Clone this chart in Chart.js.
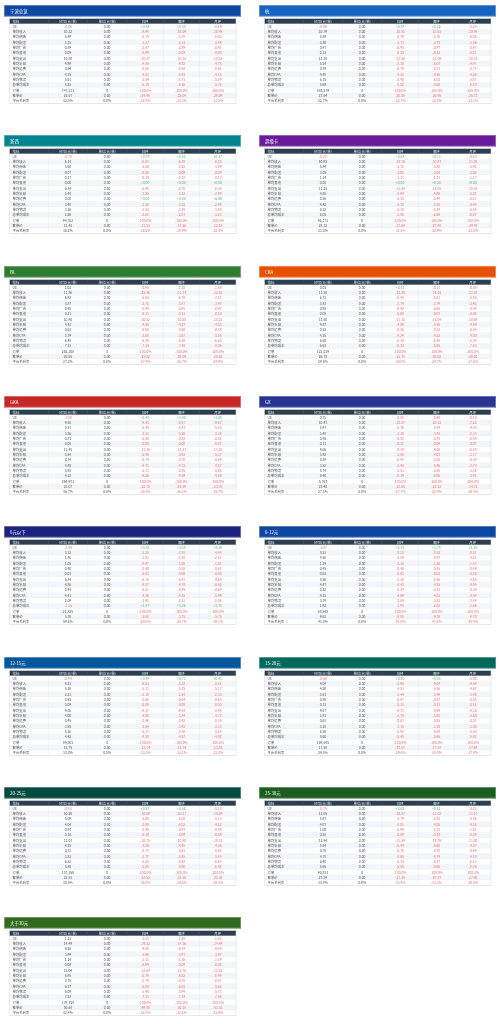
<!DOCTYPE html>
<html><head><meta charset="utf-8">
<script src="https://cdn.jsdelivr.net/npm/chart.js@4"></script>
<style>
html,body{margin:0;padding:0;background:#fff;width:500px;height:1024px;overflow:hidden}
canvas{position:absolute}
</style></head><body>
<script>
const panelTitles = ["宁波总览","杭","浙西","超级卡","BL","CKA","GKA","GX","6元以下","6-12元","12-15元","15-20元","20-25元","25-30元","大于30元"];
const panelColors = ["#0d47a1","#1565c0","#00838f","#6a1b9a","#2e7d32","#e65100","#c62828","#283593","#1a237e","#0d47a1","#01579b","#00695c","#004d40","#1b5e20","#33691e"];
const colLabels = ["指标","MTD(元/单)","单位(元/单)","日环","周环","月环"];
const rowLabels = ["UE","单均收入","单均佣金","单均配送","单均广告","单均其他","单均支出","单均补贴","单均运费","单均CPA","单均物流","总单均成本","订单","客单价","平台毛利率"];
const mtdValues = [
["-0.46","10.22","5.89","3.35","0.89","0.09","10.80","4.99","0.64","4.35","5.61","5.35","747,513","25.67","32.8%"],
["-0.46","10.79","5.89","3.80","0.97","0.13","11.30","5.24","0.79","4.48","6.15","5.69","583,579","27.64","32.7%"],
["-0.70","6.14","5.60","0.07","0.17","0.00","6.84","3.48","0.00","3.48","3.36","2.66","94,762","11.43","36.2%"],
["-0.23","10.93","5.84","3.05","1.14","0.00","11.25","4.88","0.56","4.42","6.28","6.05","92,173","28.32","31.3%"],
["1.03","11.86","6.92","3.87","0.95","0.11","10.90","4.43","0.63","3.79","6.48","7.51","262,308","26.65","27.2%"],
["0.03","11.58","6.72","3.83","0.95","0.08","11.60","4.87","0.52","4.35","6.60","6.62","122,019","26.78","29.6%"],
["-1.80","9.56","5.41","3.26","0.81","0.08","11.45","5.54","0.74","4.80","5.92","4.32","264,973","23.07","36.7%"],
["0.75","10.41","5.97","3.48","0.85","0.11","9.66","3.92","0.39","3.52","5.74","6.40","5,767","23.40","27.3%"],
["-3.44","3.32","1.86","1.05","0.40","0.01","6.84","4.86","0.44","4.41","2.09","-1.35","21,825","3.76","59.6%"],
["-1.87","8.23","4.56","1.19","0.45","0.03","8.26","4.47","0.32","4.15","3.79","1.92","68,542","9.62","41.8%"],
["-0.94","8.11","5.16","2.21","0.65","0.09","9.06","4.00","0.45","3.55","5.36","4.42","89,003","13.75","33.0%"],
["-0.56","9.09","4.58","3.51","0.88","0.13","9.67","3.81","0.63","3.18","6.16","5.60","169,645","17.58","29.5%"],
["-0.63","10.20","5.09","4.04","0.97","0.10","11.07","4.55","0.72","3.83","6.52","5.80","137,350","22.53","30.8%"],
["-0.75","11.05","5.87","4.07","1.00","0.10","11.94","5.54","0.76","4.78","6.40","5.65","90,833","27.39","33.4%"],
["1.13","14.49","9.26","3.99","1.14","0.09","13.04","6.95","0.78","6.17","6.09","7.22","179,718","50.68","32.4%"]];
const dayChange = [
["+0.42","-9.98","-5.74","-3.27","-0.87","-0.09","-10.47","-4.88","-0.65","-4.23","-5.59","-5.18","-100.0%","-24.98","-32.8%"],
["+0.39","-10.51","-5.70","-3.73","-0.95","-0.13","-11.00","-5.10","-0.78","-4.32","-5.90","-5.52","-100.0%","-26.88","-32.7%"],
["+0.74","-6.21","-5.66","-0.06","-0.18","+0.00","-6.93","-3.58","+0.00","-3.58","-3.35","-2.61","-100.0%","-11.53","-36.6%"],
["+0.24","-10.75","-5.72","-3.02","-1.11","+0.00","-11.04","-4.94","-0.55","-4.38","-6.10","-5.86","-100.0%","-27.69","-31.5%"],
["-0.95","-11.46","-6.65","-3.75","-0.94","-0.11","-10.52","-4.50","-0.65","-3.68","-6.19","-7.14","-100.0%","-25.82","-27.4%"],
["+0.11","-11.20","-6.48","-3.74","-0.92","-0.08","-11.15","-4.80","-0.56","-4.24","-6.34","-6.23","-100.0%","-25.73","-30.0%"],
["+1.45","-9.43","-5.34","-3.21","-0.80","-0.08","-11.16","-5.45","-0.74","-4.71","-5.71","-4.26","-100.0%","-22.72","-36.8%"],
["-0.88","-10.07","-5.76","-3.38","-0.82","-0.11","-9.39","-3.86","-0.41","-3.45","-5.53","-6.19","-100.0%","-22.65","-27.7%"],
["+3.38","-3.25","-1.81","-0.97","-0.40","-0.01","-6.78","-4.87","-0.51","-4.36","-1.91","+1.47","-100.0%","-3.62","-60.0%"],
["+1.75","-8.22","-4.59","-1.15","-0.46","-0.03","-8.12","-4.43","-0.34","-4.09","-3.69","-1.93","-100.0%","-9.85","-41.6%"],
["+0.89","-8.03","-5.11","-2.18","-0.66","-0.09","-9.17","-4.00","-0.46","-3.54","-5.17","-4.28","-100.0%","-13.74","-33.3%"],
["+0.50","-8.98","-4.53","-3.44","-0.87","-0.13","-9.71","-3.78","-0.63","-3.15","-5.93","-5.43","-100.0%","-17.57","-29.6%"],
["+0.57","-10.00","-5.00","-3.95","-0.95","-0.10","-10.75","-4.50","-0.73","-3.77","-6.25","-5.68","-100.0%","-22.52","-31.0%"],
["+0.65","-10.87","-5.79","-4.01","-0.98","-0.09","-11.59","-5.44","-0.76","-4.68","-6.15","-5.50","-100.0%","-27.38","-33.4%"],
["-1.21","-14.22","-9.08","-3.96","-1.11","-0.09","-12.69","-6.79","-0.79","-6.00","-5.90","-7.11","-100.0%","-49.88","-32.3%"]];
const weekChange = [
["+0.35","-10.09","-5.78","-3.33","-0.89","-0.09","-10.53","-4.82","-0.59","-4.23","-5.71","-5.36","-100.0%","-25.04","-32.3%"],
["+0.36","-10.63","-5.76","-3.78","-0.97","-0.12","-11.09","-5.07","-0.71","-4.36","-6.03","-5.66","-100.0%","-26.95","-32.3%"],
["+0.51","-6.19","-5.62","-0.09","-0.18","+0.00","-6.70","-3.32","+0.00","-3.32","-3.38","-2.87","-100.0%","-11.56","-34.9%"],
["+0.13","-10.87","-5.80","-3.04","-1.13","+0.00","-11.05","-4.86","-0.49","-4.38","-6.19","-6.06","-100.0%","-27.88","-30.9%"],
["-1.10","-11.71","-6.78","-3.87","-0.95","-0.11","-10.65","-4.27","-0.60","-3.67","-6.38","-7.48","-100.0%","-26.09","-26.7%"],
["-0.17","-11.33","-6.51","-3.79","-0.96","-0.07","-11.04","-4.56","-0.53","-4.22","-6.48","-6.65","-100.0%","-26.02","-29.7%"],
["+1.40","-9.57","-5.41","-3.26","-0.82","-0.08","-11.27","-5.42","-0.70","-4.72","-5.85","-4.39","-100.0%","-23.59","-36.2%"],
["-0.40","-10.13","-5.84","-3.42","-0.78","-0.09","-9.68","-4.03","-0.56","-3.46","-5.65","-6.06","-100.0%","-23.12","-26.4%"],
["+3.38","-3.38","-1.92","-1.06","-0.38","-0.00","-6.91","-4.79","-0.45","-4.35","-2.11","+1.26","-100.0%","-3.75","-58.7%"],
["+1.78","-8.22","-4.67","-1.26","-0.45","-0.03","-8.16","-4.35","-0.33","-4.03","-3.81","-2.03","-100.0%","-9.78","-41.2%"],
["+0.73","-8.12","-5.15","-2.24","-0.64","-0.08","-9.14","-3.84","-0.42","-3.42","-5.30","-4.57","-100.0%","-13.74","-32.1%"],
["+0.38","-9.04","-4.56","-3.49","-0.87","-0.13","-9.69","-3.65","-0.55","-3.10","-6.04","-5.66","-100.0%","-17.57","-28.8%"],
["+0.52","-10.17","-5.08","-4.02","-0.97","-0.09","-10.80","-4.48","-0.63","-3.85","-6.42","-5.90","-100.0%","-22.50","-30.6%"],
["+0.61","-11.02","-5.85","-4.06","-1.01","-0.10","-11.76","-5.60","-0.70","-4.79","-6.27","-5.66","-100.0%","-27.37","-33.3%"],
["-1.20","-14.36","-9.14","-3.97","-1.16","-0.09","-12.76","-6.82","-0.78","-6.03","-5.94","-7.14","-100.0%","-50.15","-32.2%"]];
const monthChange = [
["-0.19","-10.48","-6.03","-3.46","-0.91","-0.08","-10.35","-4.75","-0.61","-4.15","-5.59","-5.76","-100.0%","-26.09","-31.2%"],
["-0.24","-10.99","-6.05","-3.86","-0.97","-0.11","-10.83","-4.97","-0.71","-4.26","-5.87","-6.10","-100.0%","-26.73","-31.1%"],
["+0.17","-6.25","-5.69","-0.09","-0.17","+0.00","-6.39","-2.99","+0.00","-2.99","-3.40","-3.23","-100.0%","-12.12","-32.4%"],
["-0.23","-11.02","-5.92","-3.02","-1.17","+0.00","-10.85","-5.01","-0.57","-4.44","-5.84","-6.07","-100.0%","-29.34","-31.3%"],
["-1.88","-12.16","-7.11","-3.97","-0.97","-0.10","-10.23","-4.03","-0.48","-3.55","-6.20","-8.06","-100.0%","-26.26","-24.9%"],
["-0.88","-11.61","-6.85","-3.92","-0.98","-0.05","-10.88","-4.54","-0.54","-4.00","-6.34","-7.23","-100.0%","-26.20","-27.6%"],
["+1.08","-9.67","-5.43","-3.36","-0.81","-0.07","-11.03","-5.37","-0.69","-4.67","-5.66","-4.59","-100.0%","-23.70","-35.7%"],
["-0.10","-7.22","-4.34","-2.33","-0.48","-0.07","-6.48","-3.17","-0.39","-2.78","-3.31","-3.41","-100.0%","-14.72","-30.5%"],
["+4.58","-4.44","-2.51","-1.51","-0.41","-0.00","-9.29","-6.42","-0.64","-5.99","-2.86","+1.71","-100.0%","-5.75","-59.1%"],
["+2.18","-8.31","-4.23","-1.57","-0.49","-0.02","-8.68","-4.84","-0.30","-4.54","-3.84","-1.66","-100.0%","-9.70","-43.4%"],
["+0.41","-8.21","-5.17","-2.33","-0.63","-0.08","-8.95","-3.72","-0.39","-3.33","-5.23","-4.82","-100.0%","-13.83","-31.2%"],
["-0.02","-9.04","-4.61","-3.46","-0.85","-0.11","-9.30","-3.50","-0.51","-3.00","-5.80","-5.82","-100.0%","-17.69","-27.9%"],
["-0.18","-10.29","-5.13","-4.12","-0.95","-0.09","-10.31","-4.36","-0.62","-3.44","-6.24","-6.42","-100.0%","-22.35","-28.3%"],
["-0.25","-11.11","-5.86","-4.16","-1.01","-0.08","-11.00","-4.87","-0.69","-4.18","-6.13","-6.36","-100.0%","-27.40","-30.5%"],
["-1.83","-14.49","-9.25","-3.97","-1.19","-0.08","-12.22","-6.49","-0.87","-5.62","-5.73","-7.56","-100.0%","-51.53","-31.0%"]];

const colEdges = [0,39,78,117.4,154,190,226.7];
const FONT = '"Noto Sans CJK SC","Noto Sans",sans-serif';

function unitValue(r){ return r===12 ? "0" : (r===14 ? "0.0%" : "0.00"); }

const tablePlugin = {
  id:'tablePlugin',
  beforeDraw(chart){
    const ctx = chart.ctx, p = chart.options.plugins.tablePlugin;
    const xs = chart.scales.x, ys = chart.scales.y, W = chart.width;
    ctx.save();
    // title bar
    ctx.fillStyle = p.color; ctx.fillRect(0,0,W,11.6);
    ctx.strokeStyle = 'rgba(255,255,255,0.5)'; ctx.lineWidth=0.6; ctx.strokeRect(0.5,0.5,W-1,10.6);
    ctx.fillStyle = '#fff'; ctx.font = '4.4px '+FONT; ctx.textBaseline='middle'; ctx.textAlign='left';
    ctx.fillText(p.title, 6, 6);
    const x0 = xs.getPixelForValue(0), x1 = xs.getPixelForValue(colEdges[6]);
    for (let r=0;r<16;r++){
      const yt = ys.getPixelForValue(r), yb = ys.getPixelForValue(r+1), yc=(yt+yb)/2;
      ctx.fillStyle = r===0 ? '#2c3e50' : (r%2===0 ? '#f3f5f9' : '#ffffff');
      ctx.fillRect(x0,yt,x1-x0,yb-yt);
      ctx.strokeStyle = '#e3e7ee'; ctx.lineWidth=0.4;
      ctx.beginPath(); ctx.moveTo(x0,yb); ctx.lineTo(x1,yb); ctx.stroke();
      for (let c=0;c<6;c++){
        const cl = xs.getPixelForValue(colEdges[c]), cr = xs.getPixelForValue(colEdges[c+1]);
        if (c>0){ ctx.strokeStyle = r===0 ? '#4a5a6c' : '#e3e7ee'; ctx.beginPath(); ctx.moveTo(cl,yt); ctx.lineTo(cl,yb); ctx.stroke(); }
        let txt, col = '#555';
        if (r===0){ txt = colLabels[c]; col = '#dfe6ee'; }
        else {
          const ri=r-1;
          if (c===0) txt = rowLabels[ri];
          else if (c===1){ txt = p.mtd[ri]; if (ri===0 && txt[0]==='-') col='#e57373'; if (ri===11 && txt[0]==='-') col='#e57373'; }
          else if (c===2) txt = unitValue(ri);
          else { txt = p.chg[c-3][ri]; col = txt[0]==='+' ? '#5cb85c' : '#e57373'; }
        }
        ctx.fillStyle = col; ctx.font = '3.4px '+FONT;
        if (c===0){ ctx.textAlign='left'; ctx.fillText(txt, cl+3, yc); }
        else { ctx.textAlign='center'; ctx.fillText(txt, (cl+cr)/2, yc); }
      }
    }
    ctx.strokeStyle='#d5dae2'; ctx.lineWidth=0.5;
    ctx.strokeRect(x0, ys.getPixelForValue(0), x1-x0, ys.getPixelForValue(16)-ys.getPixelForValue(0));
    ctx.restore();
  }
};

panelTitles.forEach((title,i)=>{
  const cv = document.createElement('canvas');
  const col = i%2, row = Math.floor(i/2);
  cv.width = 237; cv.height = 100;
  cv.style.left = (4+col*255)+'px'; cv.style.top = (5+row*130.3)+'px';
  cv.style.width='237px'; cv.style.height='100px';
  document.body.appendChild(cv);
  new Chart(cv, {
    type:'scatter',
    data:{datasets:[{data:rowLabels.map((l,r)=>({x:colEdges[0],y:r+1.5})), pointRadius:0}]},
    options:{
      responsive:false, animation:false, devicePixelRatio:1,
      layout:{padding:{top:13.6,left:5.5,right:5,bottom:1.4}},
      scales:{
        x:{type:'linear',min:0,max:colEdges[6],display:false},
        y:{type:'linear',min:0,max:16,reverse:true,display:false}
      },
      plugins:{legend:{display:false},tooltip:{enabled:false},
        tablePlugin:{title, color:panelColors[i], mtd:mtdValues[i], chg:[dayChange[i],weekChange[i],monthChange[i]]}}
    },
    plugins:[tablePlugin]
  });
});
</script>
</body></html>
